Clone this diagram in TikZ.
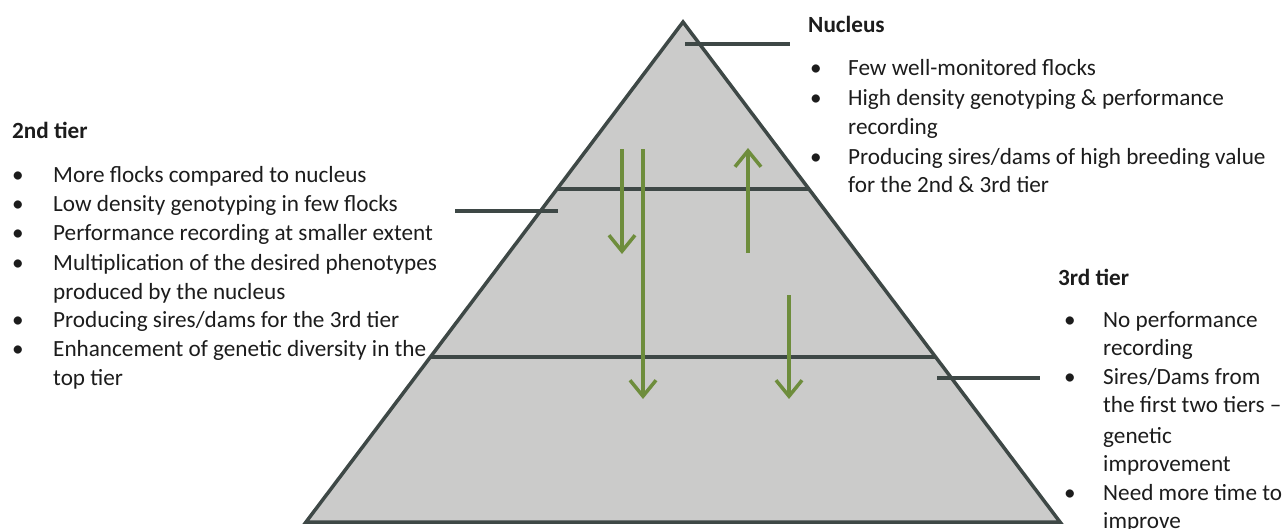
\documentclass[tikz,border=0pt]{standalone}
\usepackage{fontspec}
\setmainfont{Carlito}
\usetikzlibrary{arrows.meta,calc}
\definecolor{pyrfill}{RGB}{203,203,202}
\definecolor{pyrline}{RGB}{62,72,70}
\definecolor{arrgreen}{RGB}{110,141,60}
\definecolor{txt}{RGB}{28,28,28}
\begin{document}
\begin{tikzpicture}[x=1pt,y=-1pt,
  font=\fontsize{23.2}{29}\selectfont,
  pyramid/.style={draw=pyrline,line width=3.5pt,fill=pyrfill,line join=miter},
  divider/.style={draw=pyrline,line width=3.5pt},
  leader/.style={draw=pyrline,line width=3.5pt},
  flow/.style={draw=arrgreen,line width=3.5pt,-{Straight Barb[length=16pt,width=26pt,line width=3.5pt]}},
  head/.style={anchor=base west,inner sep=0pt,font=\fontsize{23.2}{29}\selectfont\bfseries,text=txt},
  item/.style={anchor=base west,inner sep=0pt,text=txt},
  dot/.style={anchor=base west,inner sep=0pt,text=txt}]
\useasboundingbox (0,0) rectangle (1284,528);
% pyramid
\coordinate (apex) at (683,22);
\coordinate (bl) at (306,522);
\coordinate (br) at (1060,522);
\path[pyramid] (apex) -- (br) -- (bl) -- cycle;
\coordinate (d1l) at ($(apex)!0.334!(bl)$);
\coordinate (d1r) at ($(apex)!0.334!(br)$);
\coordinate (d2l) at ($(apex)!0.67!(bl)$);
\coordinate (d2r) at ($(apex)!0.67!(br)$);
\draw[divider] (d1l) -- (d1r);
\draw[divider] (d2l) -- (d2r);
% leaders
\coordinate (l1a) at (685,44); \coordinate (l1b) at (790,44);
\coordinate (l2a) at (455,211); \coordinate (l2b) at (558,211);
\coordinate (l3a) at (937,378); \coordinate (l3b) at (1040,378);
\draw[leader] (l1a) -- (l1b);
\draw[leader] (l2a) -- (l2b);
\draw[leader] (l3a) -- (l3b);
% arrows
\coordinate (a1s) at (622,149); \coordinate (a1e) at (622,254);
\coordinate (a2s) at (643,149); \coordinate (a2e) at (643,399);
\coordinate (a3s) at (748,253); \coordinate (a3e) at (748,148);
\coordinate (a4s) at (789,295); \coordinate (a4e) at (789,399);
\draw[flow] (a1s) -- (a1e);
\draw[flow] (a2s) -- (a2e);
\draw[flow] (a3s) -- (a3e);
\draw[flow] (a4s) -- (a4e);
% Nucleus text
\node[head] (nh) at (808,32) {Nucleus};
\node[dot] (nb1) at (810,75) {•};
\node[item] (n1) at (848,75) {Few well-monitored flocks};
\node[dot] (nb2) at (810,105) {•};
\node[item] (n2) at (848,105) {High density genotyping \& performance};
\node[item] (n2b) at (848,134) {recording};
\node[dot] (nb3) at (810,164) {•};
\node[item] (n3) at (848,164) {Producing sires/dams of high breeding value};
\node[item] (n3b) at (848,192) {for the 2nd \& 3rd tier};
% 2nd tier text
\node[head] (sh) at (12,138) {2nd tier};
\node[dot] (sb1) at (12,182) {•};
\node[item] (s1) at (53,182) {More flocks compared to nucleus};
\node[dot] (sb2) at (12,211) {•};
\node[item] (s2) at (53,211) {Low density genotyping in few flocks};
\node[dot] (sb3) at (12,240) {•};
\node[item] (s3) at (53,240) {Performance recording at smaller extent};
\node[dot] (sb4) at (12,270) {•};
\node[item] (s4) at (53,270) {Multiplication of the desired phenotypes};
\node[item] (s4b) at (53,299) {produced by the nucleus};
\node[dot] (sb5) at (12,327) {•};
\node[item] (s5) at (53,327) {Producing sires/dams for the 3rd tier};
\node[dot] (sb6) at (12,356) {•};
\node[item] (s6) at (53,356) {Enhancement of genetic diversity in the};
\node[item] (s6b) at (53,385) {top tier};
% 3rd tier text
\node[head] (th) at (1058,285) {3rd tier};
\node[dot] (tb1) at (1064,327) {•};
\node[item] (t1) at (1103,327) {No performance};
\node[item] (t1b) at (1103,355) {recording};
\node[dot] (tb2) at (1064,384) {•};
\node[item] (t2) at (1103,384) {Sires/Dams from};
\node[item] (t2b) at (1103,412) {the first two tiers –};
\node[item] (t2c) at (1103,443) {genetic};
\node[item] (t2d) at (1103,471) {improvement};
\node[dot] (tb3) at (1064,500) {•};
\node[item] (t3) at (1103,500) {Need more time to};
\node[item] (t3b) at (1103,528) {improve};
\end{tikzpicture}
\end{document}
